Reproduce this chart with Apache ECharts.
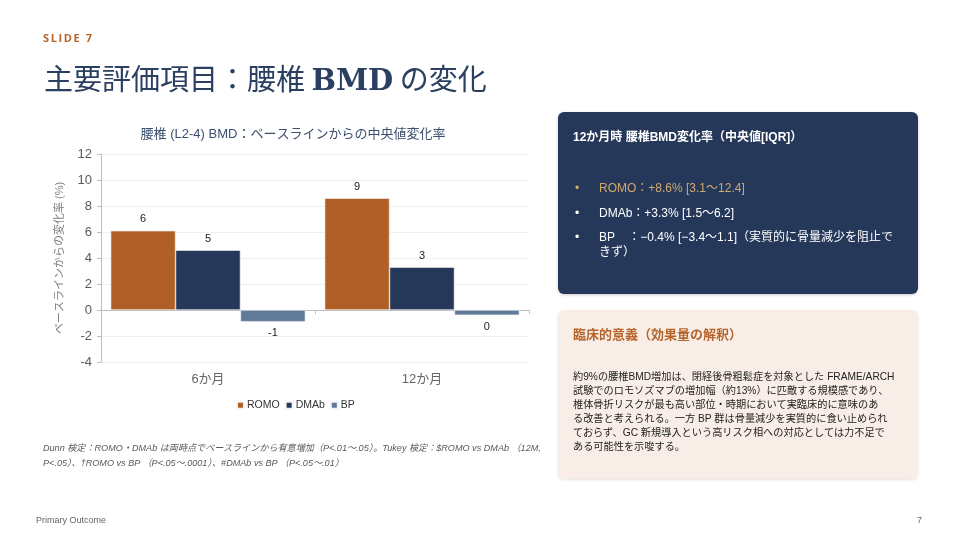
<!DOCTYPE html>
<html lang="ja">
<head>
<meta charset="utf-8">
<script src="https://cdn.jsdelivr.net/npm/echarts@6/dist/echarts.min.js"></script>
<style>
  html, body { margin: 0; padding: 0; background: #fff; }
  body { width: 960px; height: 540px; position: relative; overflow: hidden;
         font-family: "Liberation Sans", "Noto Sans CJK JP", sans-serif; }
  #chart { position: absolute; left: 0; top: 0; width: 960px; height: 540px; }
  .abs { position: absolute; z-index: 2; }
  .slide { left: 43px; top: 30px; font-size: 11px; font-weight: bold; letter-spacing: 1.6px;
           color: #B5652B; font-family: "Open Sans", "Noto Sans CJK JP", sans-serif; }
  .title { left: 44px; top: 56px; font-size: 29px; color: #2B3F60;
           font-family: "Noto Sans CJK JP", sans-serif; white-space: nowrap; }
  .title b { font-family: "DejaVu Serif", serif; }
  .panel1 { left: 558px; top: 112px; width: 360px; height: 182px; background: #25385A;
            border-radius: 6px; box-shadow: 0 1px 3px rgba(0,0,0,0.2); color: #fff; }
  .panel1 .hd { position: absolute; left: 15px; top: 15px; font-size: 12px; font-weight: bold; white-space: nowrap; }
  .panel1 .li { position: absolute; left: 41px; font-size: 12px; line-height: 15px; white-space: nowrap; }
  .panel1 .li:before { content: "•"; position: absolute; left: -24px; }
  .panel2 { left: 558px; top: 310px; width: 360px; height: 169px; background: #F9EEE7;
            border-radius: 6px; box-shadow: 0 1px 3px rgba(0,0,0,0.12); }
  .panel2 .hd { position: absolute; left: 15px; top: 14px; font-size: 13px; font-weight: bold; color: #B5652B; }
  .panel2 .bd { position: absolute; left: 15px; top: 60px; font-size: 10.2px; line-height: 14px; color: #222;
                white-space: nowrap; }
  .note { left: 43px; top: 441px; font-size: 9.1px; line-height: 15px; font-style: italic; color: #595959;
          white-space: nowrap; }
  .foot { top: 515px; font-size: 9px; color: #666; }
</style>
</head>
<body>
<div id="chart"></div>
<div class="abs slide">SLIDE 7</div>
<div class="abs title">主要評価項目：腰椎 <b>BMD</b> の変化</div>

<div class="abs panel1">
  <div class="hd">12か月時 腰椎BMD変化率（中央値[IQR]）</div>
  <div class="li" style="top:69px;color:#D2A96D;">ROMO：+8.6% [3.1〜12.4]</div>
  <div class="li" style="top:94px;">DMAb：+3.3% [1.5〜6.2]</div>
  <div class="li" style="top:118px;">BP&nbsp;&nbsp;&nbsp;&nbsp;：−0.4% [−3.4〜1.1]（実質的に骨量減少を阻止で<br>きず）</div>
</div>

<div class="abs panel2">
  <div class="hd">臨床的意義（効果量の解釈）</div>
  <div class="bd">約9%の腰椎BMD増加は、閉経後骨粗鬆症を対象とした FRAME/ARCH<br>試験でのロモソズマブの増加幅（約13%）に匹敵する規模感であり、<br>椎体骨折リスクが最も高い部位・時期において実臨床的に意味のあ<br>る改善と考えられる。一方 BP 群は骨量減少を実質的に食い止められ<br>ておらず、GC 新規導入という高リスク相への対応としては力不足で<br>ある可能性を示唆する。</div>
</div>

<div class="abs note">Dunn 検定：ROMO・DMAb は両時点でベースラインから有意増加（P&lt;.01〜.05）。Tukey 検定：$ROMO vs DMAb （12M,<br>P&lt;.05）、†ROMO vs BP （P&lt;.05〜.0001）、#DMAb vs BP （P&lt;.05〜.01）</div>

<div class="abs foot" style="left:36px;">Primary Outcome</div>
<div class="abs foot" style="left:917px;">7</div>

<script>
  var categories = ['6か月', '12か月']
  var seriesNames = ['ROMO', 'DMAb', 'BP']
  var romo = [6.1, 8.6]
  var dmab = [4.6, 3.3]
  var bp = [-0.9, -0.4]
  var colors = ['#B06026', '#25385A', '#607A9A']

  var chart = echarts.init(document.getElementById('chart'))

  function makeData(values) {
    return values.map(function (v) {
      return { value: v, label: { position: v < 0 ? 'bottom' : 'top' } }
    })
  }

  function makeSeries(name, values, color) {
    return {
      name: name,
      type: 'bar',
      data: makeData(values),
      barGap: 0,
      barCategoryGap: '9%',
      itemStyle: { color: color, borderColor: '#f4f4f4', borderWidth: 0.6 },
      label: {
        show: true,
        fontSize: 11,
        color: '#222',
        distance: 6,
        formatter: function (p) {
          var r = Math.round(p.value)
          return r === 0 ? '0' : String(r)
        }
      }
    }
  }

  var option = {
    textStyle: { fontFamily: '"Liberation Sans", "Noto Sans CJK JP", sans-serif' },
    animation: false,
    title: {
      text: '腰椎 (L2-4) BMD：ベースラインからの中央値変化率',
      left: 288,
      top: 123,
      textAlign: 'center',
      textStyle: { fontSize: 13, fontWeight: 'normal', color: '#3D4F6E' }
    },
    legend: {
      data: seriesNames,
      left: 236,
      top: 400,
      padding: 0,
      icon: 'rect',
      itemWidth: 7,
      itemHeight: 7,
      itemGap: 5,
      textStyle: { fontSize: 10.5, color: '#333', padding: [0, 0, 0, -2] }
    },
    grid: { left: 101, right: 431, top: 154, bottom: 178 },
    xAxis: [
      {
        type: 'category',
        data: categories,
        axisLine: { show: false, onZero: false },
        axisTick: { show: false },
        axisLabel: { fontSize: 13, color: '#666', margin: 11 }
      },
      {
        type: 'category',
        data: categories,
        position: 'top',
        axisLine: { show: true, onZero: true, lineStyle: { color: '#bfbfbf' } },
        axisTick: { show: true, inside: true, length: 4, lineStyle: { color: '#bfbfbf' } },
        axisLabel: { show: false }
      }
    ],
    yAxis: {
      type: 'value',
      min: -4,
      max: 12,
      interval: 2,
      name: 'ベースラインからの変化率 (%)',
      nameLocation: 'middle',
      nameGap: 36,
      nameTextStyle: { fontSize: 11, color: '#808080' },
      axisLine: { show: true, lineStyle: { color: '#bfbfbf' } },
      axisTick: { show: true, length: 4, lineStyle: { color: '#bfbfbf' } },
      axisLabel: { fontSize: 13, color: '#595959', margin: 9 },
      splitLine: { lineStyle: { color: '#efefef' } }
    },
    series: [
      makeSeries(seriesNames[0], romo, colors[0]),
      makeSeries(seriesNames[1], dmab, colors[1]),
      makeSeries(seriesNames[2], bp, colors[2])
    ]
  }

  chart.setOption(option)
</script>
</body>
</html>
